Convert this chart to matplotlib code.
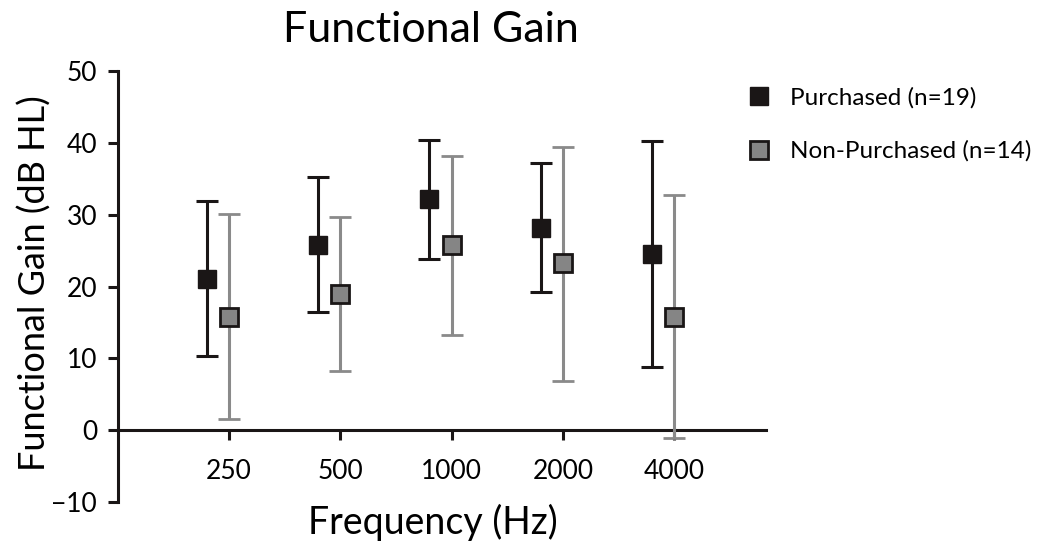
import numpy as np
import matplotlib.pyplot as plt

plt.rcParams['font.family'] = ['Lato', 'DejaVu Sans']

freqs = ['250', '500', '1000', '2000', '4000']

# Purchased (n=19): mean, upper and lower end of the bars
purch_mean = [21.1, 25.8, 32.2, 28.2, 24.6]
purch_hi = [31.9, 35.3, 40.4, 37.2, 40.3]
purch_lo = [10.3, 16.4, 23.9, 19.2, 8.8]

# Non-Purchased (n=14)
non_mean = [15.8, 19.0, 25.8, 23.3, 15.8]
non_hi = [30.1, 29.7, 38.2, 39.4, 32.8]
non_lo = [1.5, 8.3, 13.3, 6.9, -1.1]

x = np.arange(1, len(freqs) + 1)
purch_mean = np.array(purch_mean)
non_mean = np.array(non_mean)
purch_err = [purch_mean - np.array(purch_lo), np.array(purch_hi) - purch_mean]
non_err = [non_mean - np.array(non_lo), np.array(non_hi) - non_mean]

fig = plt.figure(figsize=(10.43, 5.46), dpi=100)
ax = fig.add_axes([0.113, 0.0806, 0.621, 0.789])

black = '#1a1616'
grey_line = '#8a8a8a'
grey_fill = '#858585'

ax.errorbar(x - 0.2, purch_mean, yerr=purch_err, fmt='s', color=black,
            ecolor=black, elinewidth=2.2, capsize=8, capthick=2.2,
            markersize=13, markerfacecolor=black, markeredgecolor=black,
            zorder=3)
ax.errorbar(x, non_mean, yerr=non_err, fmt='s', color=grey_line,
            ecolor=grey_line, elinewidth=2.2, capsize=8, capthick=2.2,
            markersize=13, markerfacecolor=grey_fill, markeredgecolor=black,
            markeredgewidth=2, zorder=3)

ax.set_xlim(0, 5.82)
ax.set_ylim(-10, 50)
ax.set_yticks([-10, 0, 10, 20, 30, 40, 50])
ax.set_yticklabels(['\u221210', '0', '10', '20', '30', '40', '50'])
ax.set_xticks(x)
ax.set_xticklabels(freqs)

ax.spines['top'].set_visible(False)
ax.spines['right'].set_visible(False)
ax.spines['bottom'].set_position(('data', 0))
ax.spines['left'].set_linewidth(2.2)
ax.spines['bottom'].set_linewidth(2.2)
ax.spines['left'].set_color(black)
ax.spines['bottom'].set_color(black)
ax.tick_params(axis='both', width=2.2, length=7, color=black, labelsize=19)
ax.tick_params(axis='x', pad=14)
ax.tick_params(axis='y', pad=8)

fig.text(35 / 1043, 0.482, 'Functional Gain (dB HL)', fontsize=26,
         rotation=90, ha='center', va='center')
fig.text(0.415, 1 - 522 / 546, 'Frequency (Hz)', fontsize=27,
         ha='center', va='center')
fig.text(0.413, 0.945, 'Functional Gain', fontsize=31, ha='center', va='center')

leg = fig.legend(handles=[
    plt.Line2D([], [], ls='none', marker='s', markersize=13, markerfacecolor=black,
               markeredgecolor=black),
    plt.Line2D([], [], ls='none', marker='s', markersize=13, markerfacecolor=grey_fill,
               markeredgecolor=black, markeredgewidth=2)],
    labels=['Purchased (n=19)', 'Non-Purchased (n=14)'],
    loc='upper left', bbox_to_anchor=(0.683, 0.88), frameon=False, fontsize=17.5,
    labelspacing=1.3, handletextpad=0.3)

fig.savefig('out.png', dpi=100)
